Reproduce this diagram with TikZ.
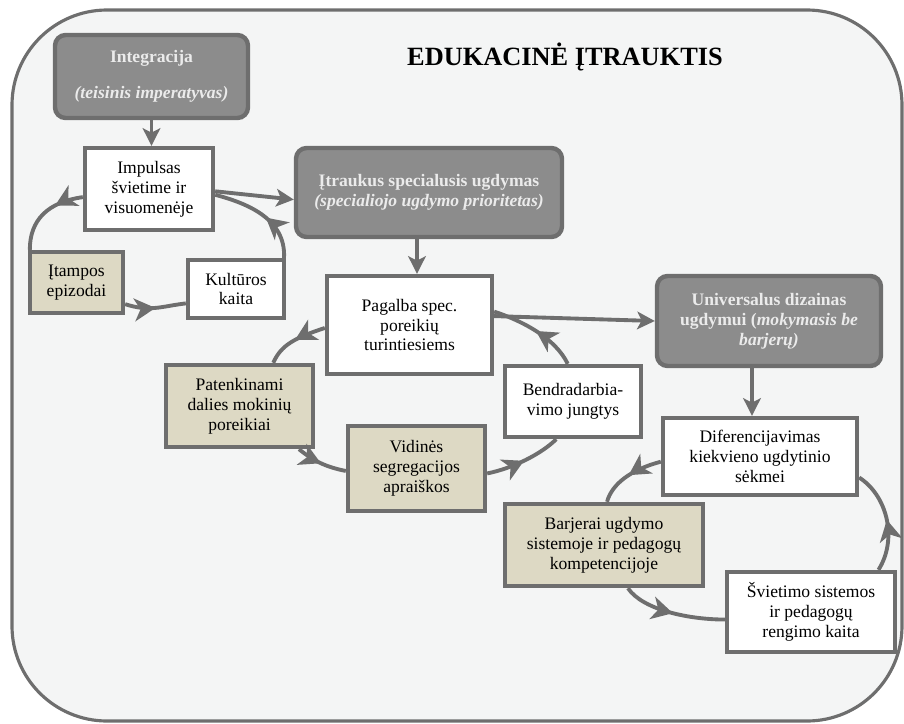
\documentclass[tikz,border=0pt]{standalone}
\usepackage{fontspec}
\setmainfont{Liberation Serif}
\usetikzlibrary{arrows.meta,decorations.markings}
\definecolor{rem}{HTML}{6E6E6E}
\definecolor{fonas}{HTML}{F4F5F5}
\definecolor{smelis}{HTML}{DDD9C4}
\definecolor{tams}{HTML}{8C8C8C}
\definecolor{sviesu}{HTML}{EBEBEB}
\begin{document}
\begin{tikzpicture}[x=0.02cm,y=-0.02cm,
	box/.style={draw=rem,line width=2.5pt,align=center,inner sep=2pt,font=\fontsize{10}{11.3}\selectfont},
	balta/.style={box,fill=white},
	smelio/.style={box,fill=smelis},
	tamsi/.style={box,fill=tams,rounded corners=6pt,text=sviesu,font=\bfseries\fontsize{10}{11.3}\selectfont},
	arr/.style={color=rem,line width=2.2pt,-{Stealth[length=10pt,width=10pt,inset=2.5pt]}},
	ciklas/.style={color=rem,line width=2.2pt,postaction={decorate},
		decoration={markings,mark=at position #1 with {\arrow{Stealth[length=12pt,width=13pt,inset=3.5pt]}}}},
	ciklas/.default=0.5]
	\useasboundingbox (0,0) rectangle (904,724);
	\draw[rem,line width=1.8pt,fill=fonas,rounded corners=1.9cm] (12,10) rectangle (902,721);
	\node (antr) at (565,57) {\fontsize{15}{18}\selectfont\bfseries EDUKACINĖ ĮTRAUKTIS};
	% langeliai
	\node[tamsi,minimum width=3.86cm,minimum height=1.66cm] (integ) at (151.5,76.5) {Integracija\\[9pt] \textit{(teisinis imperatyvas)}};
	\node[balta,minimum width=2.56cm,minimum height=1.64cm] (imp) at (149,189) {Impulsas\\ švietime ir\\ visuomenėje};
	\node[tamsi,minimum width=5.32cm,minimum height=1.78cm] (itr) at (429,192.5) {Įtraukus specialusis ugdymas\\ \textit{(specialiojo ugdymo prioritetas)}};
	\node[smelio,minimum width=1.86cm,minimum height=1.22cm] (itamp) at (76.5,282.5) {Įtampos\\ epizodai};
	\node[balta,minimum width=1.92cm,minimum height=1.16cm] (kult) at (236,289) {Kultūros\\ kaita};
	\node[balta,minimum width=3.3cm,minimum height=1.96cm] (pag) at (409.5,325) {Pagalba spec.\\ poreikių\\ turintiesiems};
	\node[tamsi,minimum width=4.48cm,minimum height=1.8cm] (univ) at (769,321) {Universalus dizainas\\ ugdymui (\textit{mokymasis be}\\ \textit{barjerų)}};
	\node[smelio,minimum width=2.94cm,minimum height=1.64cm] (pat) at (239.5,406) {Patenkinami\\ dalies mokinių\\ poreikiai};
	\node[balta,minimum width=2.72cm,minimum height=1.42cm] (bend) at (573,401.5) {Bendradarbia-\\ vimo jungtys};
	\node[smelio,minimum width=2.74cm,minimum height=1.7cm] (vid) at (416.5,468.5) {Vidinės\\ segregacijos\\ apraiškos};
	\node[balta,minimum width=3.88cm,minimum height=1.54cm] (dif) at (760,456.5) {Diferencijavimas\\ kiekvieno ugdytinio\\ sėkmei};
	\node[smelio,minimum width=3.96cm,minimum height=1.64cm] (barj) at (604,545) {Barjerai ugdymo\\ sistemoje ir pedagogų\\ kompetencijoje};
	\node[balta,minimum width=3.36cm,minimum height=1.6cm] (svt) at (811,612) {Švietimo sistemos\\ ir pedagogų\\ rengimo kaita};
	% rodyklės
	\draw[arr] (integ.south) -- (integ.south |- imp.north);
	\draw[arr] (imp.-2) -- (itr.183);
	\draw[arr] ([xshift=0.15cm]pag.north |- itr.south) -- ([xshift=0.15cm]pag.north);
	\draw[arr] (pag.6) -- (univ.west);
	\draw[arr] ([xshift=-0.16cm]dif.north |- univ.south) -- ([xshift=-0.16cm]dif.north);
	% ciklai
	\draw[ciklas=0.35] (imp.187) .. controls +(-35,5) and +(0,-30) .. (itamp.145);
	\draw[ciklas] (itamp.-24) .. controls +(25,8) and +(-25,3) .. (kult.196);
	\draw[ciklas=0.45] (kult.33) .. controls +(2,-40) and +(30,8) .. (imp.-5);
	\draw[ciklas] (pag.182) .. controls +(-30,10) and +(8,-18) .. (pat.52);
	\draw[ciklas] (pat.-36) .. controls +(15,12) and +(-20,-4) .. (vid.182);
	\draw[ciklas] (vid.-4) .. controls +(25,-5) and +(-15,15) .. (bend.246);
	\draw[ciklas] (bend.98) .. controls +(-12,-25) and +(30,10) .. (pag.9);
	\draw[ciklas] (dif.183) .. controls +(-30,8) and +(5,-18) .. (barj.86);
	\draw[ciklas] (barj.-61) .. controls +(15,22) and +(-35,0) .. (svt.185);
	\draw[ciklas] (svt.32) .. controls +(20,-32) and +(27,17) .. (dif.-12);
\end{tikzpicture}
\end{document}
